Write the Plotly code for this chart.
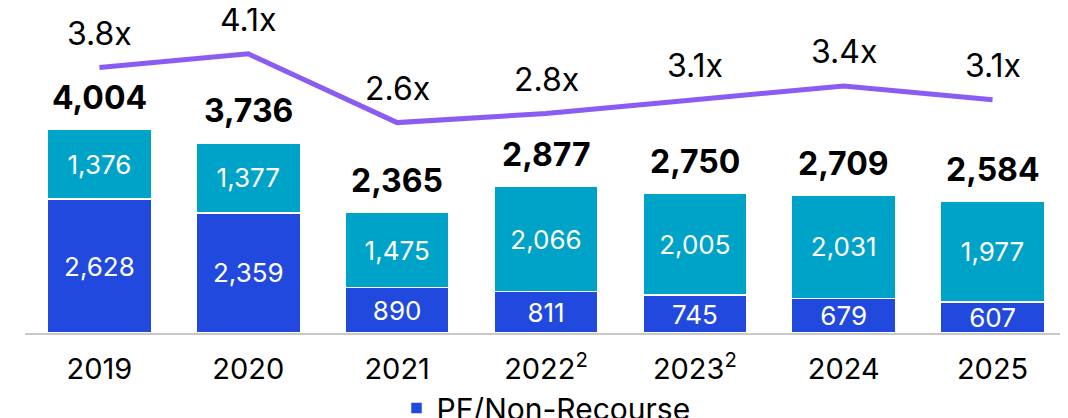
import plotly.graph_objects as go

years = ["2019", "2020", "2021", "2022<sup>2</sup>", "2023<sup>2</sup>", "2024", "2025"]
pf_nonrecourse = [2628, 2359, 890, 811, 745, 679, 607]
other_debt = [1376, 1377, 1475, 2066, 2005, 2031, 1977]
totals = [4004, 3736, 2365, 2877, 2750, 2709, 2584]
ratio = [3.8, 4.1, 2.6, 2.8, 3.1, 3.4, 3.1]

xpos = list(range(len(years)))

FONT = "Inter"
BLUE = "#2249DD"
TEAL = "#00A3C8"
PURPLE = "#8B5CF2"

fig = go.Figure()
fig.add_trace(go.Bar(
    x=xpos, y=pf_nonrecourse, name="PF/Non-Recourse",
    marker=dict(color=BLUE, line=dict(color="white", width=1.5)),
    text=[f"{v:,}" for v in pf_nonrecourse], textposition="inside",
    insidetextanchor="middle",
    textfont=dict(family=FONT, size=26, color="white"),
    hoverinfo="skip",
))
fig.add_trace(go.Bar(
    x=xpos, y=other_debt, name="Recourse", showlegend=False,
    marker=dict(color=TEAL, line=dict(color="white", width=1.5)),
    text=[f"{v:,}" for v in other_debt], textposition="inside",
    insidetextanchor="middle",
    textfont=dict(family=FONT, size=26, color="white"),
    hoverinfo="skip",
))
fig.add_trace(go.Scatter(
    x=xpos, y=ratio, yaxis="y2", mode="lines", showlegend=False,
    line=dict(color=PURPLE, width=5), hoverinfo="skip",
))

for x, t in zip(xpos, totals):
    fig.add_annotation(x=x, y=t, text=f"<b>{t:,}</b>", showarrow=False,
                       yanchor="middle", yshift=32,
                       font=dict(family=FONT, size=32, color="black"))
for x, r in zip(xpos, ratio):
    fig.add_annotation(x=x, y=r, yref="y2", text=f"{r:.1f}x", showarrow=False,
                       yanchor="middle", yshift=34,
                       font=dict(family=FONT, size=32, color="black"))

fig.update_layout(
    width=1060, height=410,
    margin=dict(l=17, r=1, t=2, b=85, autoexpand=False),
    barmode="stack", bargap=0.30,
    uniformtext=dict(minsize=26, mode="show"),
    plot_bgcolor="white", paper_bgcolor="white",
    font=dict(family=FONT, color="black"),
    xaxis=dict(range=[-0.5, len(years) - 0.5], tickvals=xpos, ticktext=years,
               showline=True, linecolor="#C8C8C8", linewidth=2,
               showgrid=False, zeroline=False, automargin=False,
               ticks="outside", ticklen=9, tickcolor="rgba(0,0,0,0)",
               tickfont=dict(family=FONT, size=29, color="black")),
    yaxis=dict(range=[0, 6346], visible=False, showgrid=False),
    yaxis2=dict(range=[-1.989, 5.056], overlaying="y", visible=False, showgrid=False),
    legend=dict(orientation="h", x=0.5, xanchor="center", y=-0.152, yanchor="top",
                font=dict(family=FONT, size=30, color="black")),
    showlegend=True,
)

fig.write_html("out.html")
